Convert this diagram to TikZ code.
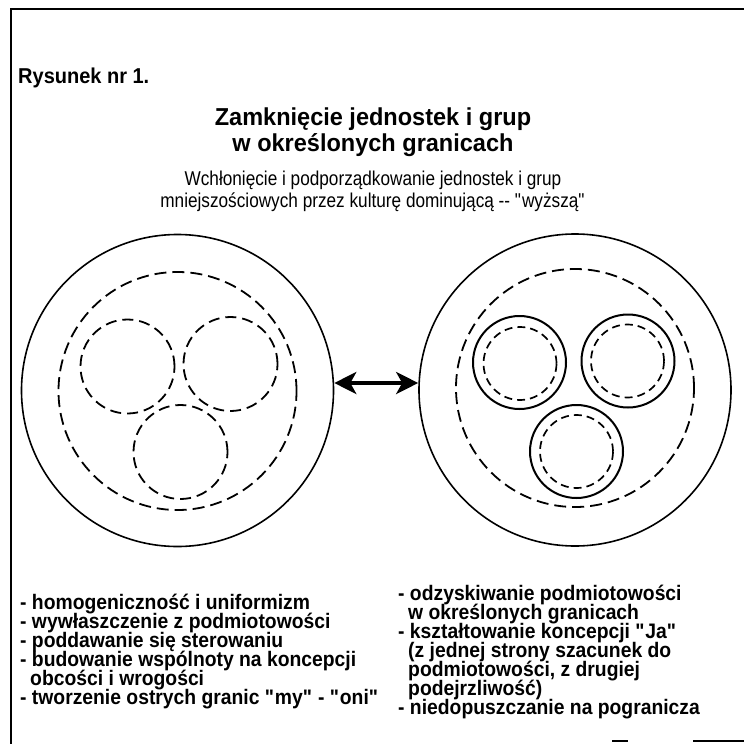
\documentclass[tikz,border=0pt]{standalone}
\usepackage{fontspec}
\setmainfont{Liberation Sans}
\newfontfamily\lstfont[FakeStretch=0.92]{Liberation Sans Bold}
\newfontfamily\subfont[FakeStretch=0.86]{Liberation Sans}
\newfontfamily\ttlfont[FakeStretch=0.96]{Liberation Sans Bold}
\newfontfamily\rysfont[FakeStretch=0.93]{Liberation Sans Bold}
\newcommand{\qq}{\textquotedbl}
\usetikzlibrary{arrows.meta}
\begin{document}
\begin{tikzpicture}[x=1pt,y=-1pt,
  bigc/.style={circle,draw,line width=1.6pt,minimum size=312pt,inner sep=0pt},
  bigdash/.style={circle,draw,line width=1.8pt,minimum size=238pt,inner sep=0pt,dash pattern=on 12pt off 6pt},
  smalldash/.style={circle,draw,line width=1.8pt,minimum size=94pt,inner sep=0pt,dash pattern=on 11pt off 6pt},
  smallsolid/.style={circle,draw,line width=2pt,minimum size=93pt,inner sep=0pt},
  innerdash/.style={circle,draw,line width=1.7pt,minimum size=73pt,inner sep=0pt,dash pattern=on 8pt off 5pt},
  frame/.style={line width=1.8pt},
  lst/.style={anchor=base west,inner sep=0pt,font=\lstfont\fontsize{21}{21}\selectfont},
  ttl/.style={anchor=base,inner sep=0pt,font=\ttlfont\fontsize{24.5}{24.5}\selectfont},
  sub/.style={anchor=base,inner sep=0pt,font=\subfont\fontsize{20}{20}\selectfont},
  dbl/.style={line width=4pt,{Stealth[length=22pt,width=22pt,inset=6pt]}-{Stealth[length=22pt,width=22pt,inset=6pt]}}
]
\useasboundingbox (0,0) rectangle (744,744);
% frame
\coordinate (fTL) at (11,9);
\coordinate (fTR) at (744,9);
\coordinate (fBL) at (11,744);
\draw[frame] (fTR) -- (fTL) -- (fBL);
\coordinate (b1a) at (612,741); \coordinate (b1b) at (628,741);
\coordinate (b2a) at (693,741); \coordinate (b2b) at (744,741);
\draw[frame] (b1a) -- (b1b);
\draw[frame] (b2a) -- (b2b);

% texts
\node[anchor=base west,inner sep=0pt,font=\rysfont\fontsize{21.5}{21.5}\selectfont] (rys) at (18,83) {Rysunek nr 1.};
\node[ttl] (t1) at (373,125) {Zamknięcie jednostek i grup};
\node[ttl] (t2) at (373,151) {w określonych granicach};
\node[sub] (s1) at (373,185) {Wchłonięcie i podporządkowanie jednostek i grup};
\node[sub] (s2) at (373,207) {mniejszościowych przez kulturę dominującą -{}- \qq wyższą\qq};

% left structure
\node[bigc] (L) at (177.5,390.5) {};
\node[bigdash] (Ld) at (177.5,391) {};
\node[smalldash] (La) at (127.5,366.5) {};
\node[smalldash] (Lb) at (230.5,364) {};
\node[smalldash] (Lc) at (180.5,452) {};

% right structure
\node[bigc] (R) at (575,390) {};
\node[bigdash] (Rd) at (575,388) {};
\node[smallsolid] (Ra) at (519.5,362.5) {};
\node[innerdash] (Rai) at (520,363.5) {};
\node[smallsolid] (Rb) at (628,361) {};
\node[innerdash] (Rbi) at (627.5,361) {};
\node[smallsolid] (Rc) at (576.5,451.5) {};
\node[innerdash] (Rci) at (576.5,451.5) {};

% arrow
\draw[dbl] (L.east |- 0,383) -- (R.west |- 0,383);

% left list
\node[lst] (a1) at (20,609) {- homogeniczność i uniformizm};
\node[lst] (a2) at (20,628) {- wywłaszczenie z podmiotowości};
\node[lst] (a3) at (20,647) {- poddawanie się sterowaniu};
\node[lst] (a4) at (20,666) {- budowanie wspólnoty na koncepcji};
\node[lst] (a5) at (30,685) {obcości i wrogości};
\node[lst] (a6) at (20,704) {- tworzenie ostrych granic \qq my\qq\ - \qq oni\qq};

% right list
\node[lst] (b1) at (398,600) {- odzyskiwanie podmiotowości};
\node[lst] (b2) at (408,619) {w określonych granicach};
\node[lst] (b3) at (398,638) {- kształtowanie koncepcji \qq Ja\qq};
\node[lst] (b4) at (408,657) {(z jednej strony szacunek do};
\node[lst] (b5) at (408,676) {podmiotowości, z drugiej};
\node[lst] (b6) at (408,695) {podejrzliwość)};
\node[lst] (b7) at (398,714) {- niedopuszczanie na pogranicza};
\end{tikzpicture}
\end{document}
